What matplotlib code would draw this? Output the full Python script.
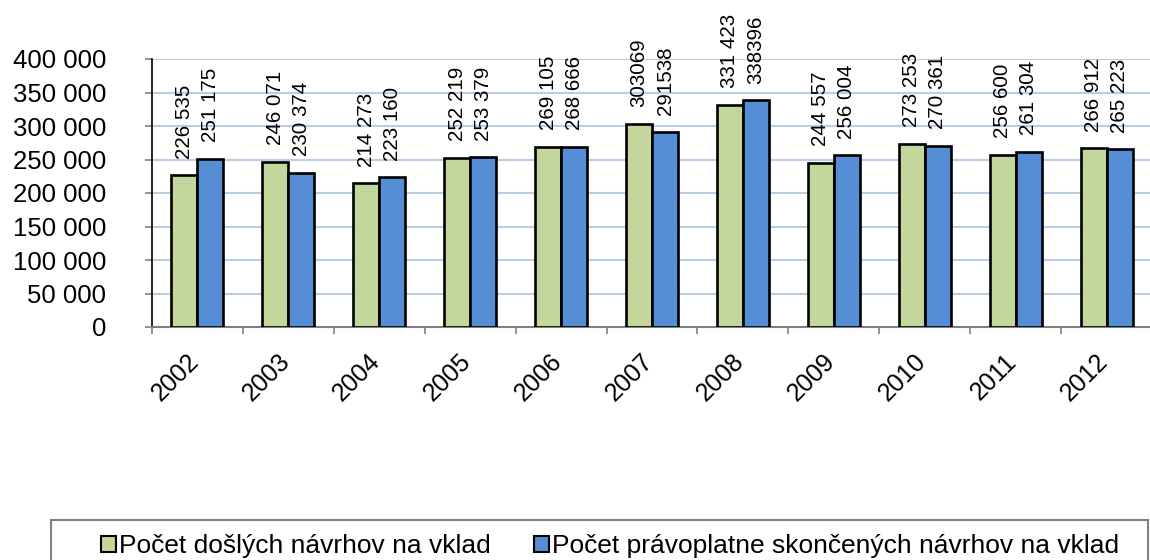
import matplotlib
matplotlib.use("Agg")
import matplotlib.pyplot as plt
from matplotlib.patches import Rectangle, Patch
from matplotlib.transforms import ScaledTranslation
import numpy as np

plt.rcParams['font.family'] = ['Liberation Sans', 'DejaVu Sans']

years = ["2002", "2003", "2004", "2005", "2006", "2007", "2008", "2009", "2010", "2011", "2012"]
incoming = [226535, 246071, 214273, 252219, 269105, 303069, 331423, 244557, 273253, 256600, 266912]
finished = [251175, 230374, 223160, 253379, 268666, 291538, 338396, 256004, 270361, 261304, 265223]
incoming_labels = ["226 535", "246 071", "214 273", "252 219", "269 105", "303069", "331 423",
                   "244 557", "273 253", "256 600", "266 912"]
finished_labels = ["251 175", "230 374", "223 160", "253 379", "268 666", "291538", "338396",
                   "256 004", "270 361", "261 304", "265 223"]
series_names = ["Počet došlých návrhov na vklad", "Počet právoplatne skončených návrhov na vklad"]
yticks = [0, 50000, 100000, 150000, 200000, 250000, 300000, 350000, 400000]
ytick_labels = ["0", "50 000", "100 000", "150 000", "200 000", "250 000", "300 000", "350 000", "400 000"]

green = "#c3d69b"
blue = "#558ed5"

W, H = 1150, 560
fig = plt.figure(figsize=(W / 100, H / 100), dpi=100)
ax = fig.add_axes([152 / W, 1 - 327 / H, 1000 / W, 268 / H])

x = np.arange(len(years))
bw = 0.286
ax.bar(x - bw / 2, incoming, bw, color=green, edgecolor="black", linewidth=1.9, zorder=3)
ax.bar(x + bw / 2, finished, bw, color=blue, edgecolor="black", linewidth=1.9, zorder=3)

for xi, v, lab in zip(x - bw / 2, incoming, incoming_labels):
    ax.annotate(lab, (xi, v), xytext=(0, 12), textcoords="offset points",
                rotation=90, ha="center", va="bottom", fontsize=14.8)
for xi, v, lab in zip(x + bw / 2, finished, finished_labels):
    ax.annotate(lab, (xi, v), xytext=(0, 12), textcoords="offset points",
                rotation=90, ha="center", va="bottom", fontsize=14.8)

ax.set_xlim(-0.5, len(years) - 0.5)
ax.set_ylim(0, 400000)
ax.set_yticks(yticks)
ax.set_yticklabels(ytick_labels, fontsize=18.5)
ax.tick_params(axis="y", length=5, width=1.2, color="#808080", pad=28)

ax.set_xticks(x)
ax.set_xticklabels(years, fontsize=18, rotation=45, ha="right")
ax.tick_params(axis="x", which="major", length=0, pad=16)
shift = ScaledTranslation(6 / 100, 0, fig.dpi_scale_trans)
for lab in ax.get_xticklabels():
    lab.set_transform(lab.get_transform() + shift)
ax.set_xticks(np.arange(len(years) + 1) - 0.5, minor=True)
ax.tick_params(axis="x", which="minor", length=5, width=1.2, color="#808080")

ax.yaxis.grid(True, color="#b9cde5", linewidth=1.5, zorder=0)
ax.set_axisbelow(True)
for s in ["top", "right"]:
    ax.spines[s].set_visible(False)
ax.spines["left"].set_color("black")
ax.spines["left"].set_linewidth(1.2)
ax.spines["bottom"].set_color("#808080")
ax.spines["bottom"].set_linewidth(1.5)

# legend frame
fig.patches.append(Rectangle((51 / W, -0.1), 1097 / W, 0.1 + (1 - 520 / H), transform=fig.transFigure,
                             facecolor="none", edgecolor="#808080", linewidth=1.5))
handles = [Patch(facecolor=green, edgecolor="black", linewidth=1.5),
           Patch(facecolor=blue, edgecolor="black", linewidth=1.5)]
fig.legend(handles, series_names, loc="center", bbox_to_anchor=(610 / W, 1 - 546 / H), ncol=2,
           frameon=False, fontsize=19, handlelength=0.57, handleheight=0.57, handletextpad=0.12,
           columnspacing=1.63, borderpad=0, borderaxespad=0)

fig.savefig("out.png", dpi=100)
